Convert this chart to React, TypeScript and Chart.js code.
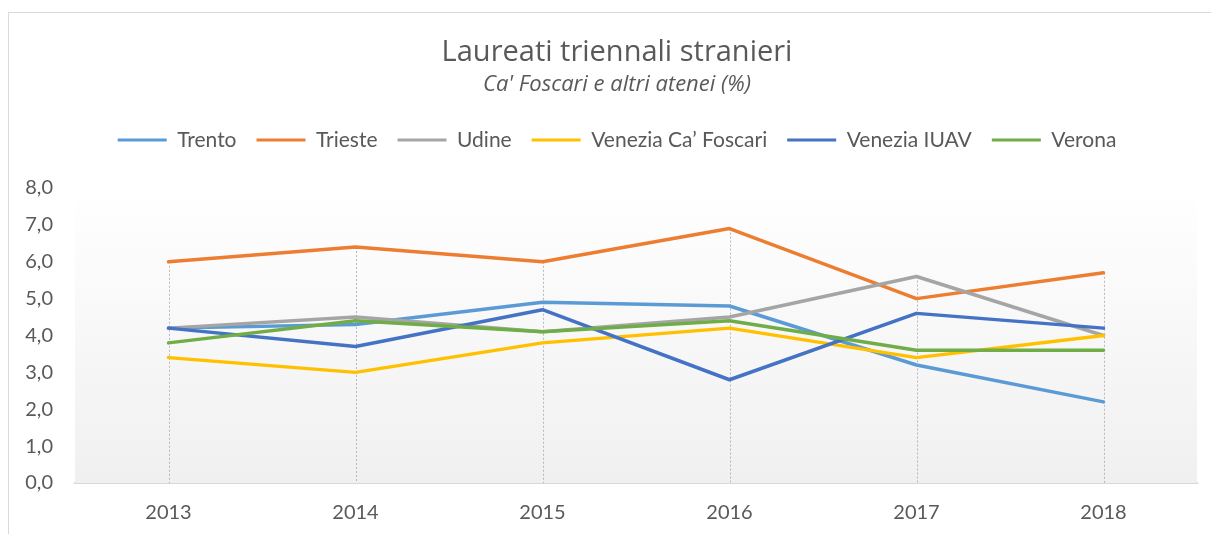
import React, { useEffect, useRef } from "react";
import { Chart, registerables } from "chart.js";

Chart.register(...registerables);

const years = ["2013", "2014", "2015", "2016", "2017", "2018"];
const seriesNames = ["Trento", "Trieste", "Udine", "Venezia Ca\u2019 Foscari", "Venezia IUAV", "Verona"];
const trento = [4.2, 4.3, 4.9, 4.8, 3.2, 2.2];
const trieste = [6.0, 6.4, 6.0, 6.9, 5.0, 5.7];
const udine = [4.2, 4.5, 4.1, 4.5, 5.6, 4.0];
const veneziaCaFoscari = [3.4, 3.0, 3.8, 4.2, 3.4, 4.0];
const veneziaIUAV = [4.2, 3.7, 4.7, 2.8, 4.6, 4.2];
const verona = [3.8, 4.4, 4.1, 4.4, 3.6, 3.6];
const seriesColors = ["#5B9BD5", "#ED7D31", "#A5A5A5", "#FFC000", "#4472C4", "#70AD47"];
const yMin = 0;
const yMax = 8;
const yStep = 1;

const FONT = "Lato, 'Open Sans', sans-serif";
const TFONT = "'Open Sans', Lato, sans-serif";
const TEXT = "#595959";

const bgPlugin = {
  id: "plotBg",
  beforeDatasetsDraw(chart: any) {
    const { ctx, chartArea } = chart;
    const g = ctx.createLinearGradient(0, chartArea.top, 0, chartArea.bottom);
    g.addColorStop(0, "#ffffff");
    g.addColorStop(1, "#f0f0f0");
    ctx.save();
    ctx.fillStyle = g;
    ctx.fillRect(chartArea.left, chartArea.top, chartArea.right - chartArea.left, chartArea.bottom - chartArea.top);
    // drop lines from the highest value of each category to the axis
    const xs = chart.scales.x;
    const ys = chart.scales.y;
    ctx.strokeStyle = "#b8b8b8";
    ctx.lineWidth = 1;
    ctx.setLineDash([2, 2]);
    for (let i = 0; i < years.length; i++) {
      let m = -Infinity;
      chart.data.datasets.forEach((d: any) => {
        if (d.data[i] > m) m = d.data[i];
      });
      const x = Math.round(xs.getPixelForValue(i)) + 0.5;
      ctx.beginPath();
      ctx.moveTo(x, ys.getPixelForValue(m));
      ctx.lineTo(x, ys.getPixelForValue(0));
      ctx.stroke();
    }
    ctx.restore();
  },
};

const legendSizer = {
  id: "legendSizer",
  beforeInit(chart: any) {
    const lg = chart.legend;
    if (!lg) return;
    const orig = lg.fit;
    lg.fit = function () {
      orig.call(lg);
      lg.height = 78.5;
    };
  },
};

export default function App() {
  const ref = useRef<HTMLCanvasElement>(null);
  useEffect(() => {
    const all = [trento, trieste, udine, veneziaCaFoscari, veneziaIUAV, verona];
    const chart = new Chart(ref.current as HTMLCanvasElement, {
      type: "line",
      data: {
        labels: years,
        datasets: all.map((d, i) => ({
          label: seriesNames[i],
          data: d,
          borderColor: seriesColors[i],
          backgroundColor: seriesColors[i],
          borderWidth: 3.5,
          pointRadius: 0,
          pointHoverRadius: 0,
          tension: 0,
          borderCapStyle: "round",
          borderJoinStyle: "round",
          order: all.length - i,
        })),
      },
      options: {
        responsive: false,
        animation: false,
        layout: { padding: 0 },
        plugins: {
          title: {
            display: true,
            text: "Laureati triennali stranieri",
            color: TEXT,
            font: { family: TFONT, size: 29, weight: "normal", lineHeight: 1.2 },
            padding: { top: 22.6, bottom: 0 },
          },
          subtitle: {
            display: true,
            text: "Ca' Foscari e altri atenei (%)",
            color: TEXT,
            font: { family: TFONT, size: 22, style: "italic", lineHeight: 1.2 },
            padding: { top: 1.4, bottom: 11.3 },
          },
          legend: {
            display: true,
            position: "top",
            labels: {
              color: TEXT,
              font: { family: FONT, size: 21 },
              boxWidth: 49,
              boxHeight: 3,
              padding: 20,
              sort: (a: any, b: any) => a.datasetIndex - b.datasetIndex,
              generateLabels: (c: any) =>
                (Chart.defaults.plugins.legend.labels.generateLabels as any)(c).map((l: any) => ({
                  ...l,
                  fillStyle: l.strokeStyle,
                  lineWidth: 0,
                })),
            },
          },
          tooltip: { enabled: false },
        },
        scales: {
          x: {
            type: "category",
            offset: true,
            grid: { display: false, drawTicks: false },
            border: { display: true, color: "#d9d9d9", width: 2 },
            ticks: { color: TEXT, font: { family: FONT, size: 20 }, padding: 18, maxRotation: 0 },
            afterFit: (s: any) => {
              s.height = 51;
            },
          },
          y: {
            min: yMin,
            max: yMax,
            grid: { display: false, drawTicks: false },
            border: { display: false },
            ticks: {
              stepSize: yStep,
              color: TEXT,
              font: { family: FONT, size: 20 },
              padding: 22,
              callback: (v: any) => Number(v).toFixed(1).replace(".", ","),
            },
            afterFit: (s: any) => {
              s.width = 66;
            },
          },
          yRightSpace: {
            type: "linear",
            position: "right",
            display: true,
            grid: { display: false, drawTicks: false },
            border: { display: false },
            ticks: { display: false },
            afterFit: (s: any) => {
              s.width = 28;
            },
          },
        },
      },
      plugins: [bgPlugin, legendSizer],
    });
    return () => chart.destroy();
  }, []);

  return (
    <>
      <style>{"html,body{overflow:hidden;}"}</style>
      <div
        style={{
          position: "absolute",
          left: 8,
          top: 12,
          width: 1203,
          height: 522,
          boxSizing: "border-box",
          borderTop: "1px solid #d9d9d9",
          borderLeft: "1px solid #d9d9d9",
          overflow: "hidden",
        }}
      >
        <canvas ref={ref} width={1216} height={521} style={{ display: "block", width: 1216, height: 521 }} />
      </div>
    </>
  );
}
